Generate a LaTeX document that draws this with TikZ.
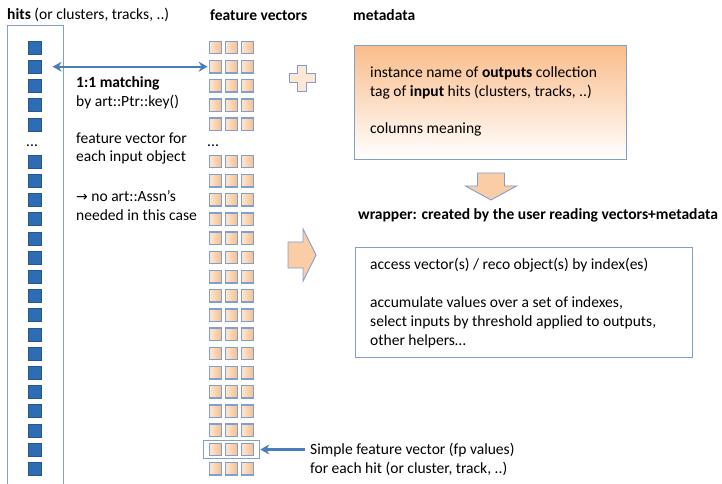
\documentclass[tikz,border=0pt]{standalone}
\usepackage{fontspec}
\setmainfont{Carlito}
\newfontfamily\arrowfont{DejaVu Sans}
\usetikzlibrary{arrows.meta,fit,positioning}
\definecolor{frameblue}{RGB}{127,159,207}
\definecolor{linkblue}{RGB}{74,126,187}
\definecolor{hitblue}{RGB}{46,109,180}
\definecolor{peach}{RGB}{253,232,214}
\definecolor{apricot}{RGB}{250,188,138}
\tikzset{
  hit/.style={fill=hitblue, draw=hitblue!80!black, minimum size=13, inner sep=0},
  feat/.style={draw=frameblue, line width=1.3, left color=peach, right color=apricot, minimum size=12.5, inner sep=0},
  frame/.style={draw=frameblue, line width=0.9},
  link/.style={draw=linkblue, line width=2.4},
  blockarrow/.style={draw=frameblue, fill=apricot!75, line width=0.9},
  txt/.style={anchor=west, align=left, inner sep=0, font=\fontsize{15.6}{19}\selectfont},
}
\begin{document}
\begin{tikzpicture}[x=1bp, y=-1bp, >={Stealth[length=9, width=10]}]
\useasboundingbox (0,0) rectangle (722,484);

% column titles
\node[txt] (hitsttl) at (7,15) {\textbf{hits} (or clusters, tracks, ..)};
\node[txt] (featttl) at (210,15) {\textbf{feature vectors}};
\node[txt] (metattl) at (353,15) {\textbf{metadata}};

% hits
\node[frame, anchor=north west, minimum width=56, minimum height=470] (hitbox) at (7,25) {};
\foreach \i in {0,...,4} \node[hit] (a\i) at (35,47.5+19.2*\i) {};
\node[txt, anchor=base west] (hdots) at (26,147) {...};
\foreach \i in {0,...,16} \node[hit] (b\i) at (35,161.5+19.2*\i) {};

% feature vectors
\foreach \i in {0,...,4}
  \foreach \c [count=\k from 0] in {a,b,c}
    \node[feat] (p\i\c) at (215.5+16*\k,47.5+19.2*\i) {};
\node[txt, anchor=base west] (fdots) at (207,147) {...};
\foreach \i in {0,...,16}
  \foreach \c [count=\k from 0] in {a,b,c}
    \node[feat] (q\i\c) at (215.5+16*\k,161.5+19.2*\i) {};
\node[frame, fit=(q15a)(q15c), inner xsep=5.5, inner ysep=2.5] (sel) {};

% matching
\draw[link, <->, shorten <=11, shorten >=1] (a1.east) -- (p1a.west);
\node[txt] (match) at (76,92.5) {\textbf{1:1 matching}\\by art::Ptr::key()};
\node[txt] (fvtext) at (76,148.5) {feature vector for\\each input object};
\node[txt] (noassn) at (76,206) {{\arrowfont\fontsize{14}{19}\selectfont →} no art::Assn’s\\needed in this case};

\node[txt] (note) at (310,459.5) {Simple feature vector (fp values)\\for each hit (or cluster, track, ..)};
\draw[link, <-, shorten >=5] (sel.east) -- (sel.east -| note.west);

% plus
\draw[blockarrow, fill=peach] (297.5,65) -- (306.5,65) -- (306.5,73.5) -- (315,73.5) -- (315,82.5) -- (306.5,82.5)
  -- (306.5,91) -- (297.5,91) -- (297.5,82.5) -- (289,82.5) -- (289,73.5) -- (297.5,73.5) -- cycle;

% metadata
\node[frame, anchor=north west, minimum width=273, minimum height=114, top color=apricot, bottom color=white] (meta) at (354,45) {};
\node[txt] (metatext) at (370,101.5) {instance name of \textbf{outputs} collection\\tag of \textbf{input} hits (clusters, tracks, ..)\\[19bp]columns meaning};

% block arrows
\draw[blockarrow] (477.5,173) -- (504.5,173) -- (504.5,186) -- (516.5,186) -- (491,200) -- (465.5,186) -- (477.5,186) -- cycle;
\draw[blockarrow] (288,242) -- (303,242) -- (303,229) -- (316,255) -- (303,281) -- (303,268) -- (288,268) -- cycle;

% wrapper
\node[txt] (wrapttl) at (358,215) {\textbf{wrapper: created by the user reading vectors+metadata}};
\node[frame, anchor=north west, minimum width=338, minimum height=110, fill=white] (wrap) at (355,247) {};
\node[txt] (wraptext) at (370,303) {access vector(s) / reco object(s) by index(es)\\[19bp]accumulate values over a set of indexes,\\select inputs by threshold applied to outputs,\\other helpers…};
\end{tikzpicture}
\end{document}
